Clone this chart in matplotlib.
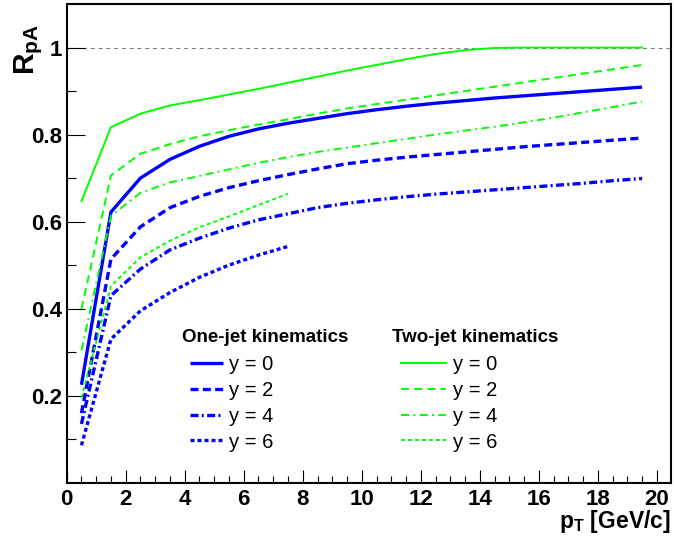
import matplotlib
matplotlib.use("Agg")
import matplotlib.pyplot as plt
from matplotlib.ticker import MultipleLocator, FixedLocator, FuncFormatter

plt.rcParams['font.family'] = ['Liberation Sans', 'DejaVu Sans']
plt.rcParams['mathtext.fontset'] = 'custom'
plt.rcParams['mathtext.rm'] = 'Liberation Sans'
plt.rcParams['mathtext.bf'] = 'Liberation Sans:bold'
plt.rcParams['mathtext.it'] = 'Liberation Sans:italic'

# ---- data ----
pt = [0.5, 1.5, 2.5, 3.5, 4.5, 5.5, 6.5, 7.5, 8.5, 9.5,
      10.5, 11.5, 12.5, 13.5, 14.5, 15.5, 16.5, 17.5, 18.5, 19.5]
pt_short = [0.5, 1.5, 2.5, 3.5, 4.5, 5.5, 6.5, 7.5]

one_jet_y0 = [0.225, 0.622, 0.700, 0.743, 0.773, 0.796, 0.813, 0.826, 0.837, 0.848,
              0.857, 0.865, 0.872, 0.878, 0.884, 0.889, 0.894, 0.899, 0.904, 0.909]
one_jet_y2 = [0.160, 0.514, 0.588, 0.632, 0.658, 0.678, 0.694, 0.708, 0.721, 0.733,
              0.741, 0.748, 0.754, 0.760, 0.766, 0.772, 0.777, 0.782, 0.787, 0.792]
one_jet_y4 = [0.135, 0.430, 0.491, 0.535, 0.562, 0.585, 0.604, 0.618, 0.632, 0.642,
              0.650, 0.657, 0.663, 0.668, 0.673, 0.678, 0.683, 0.688, 0.694, 0.699]
one_jet_y6 = [0.086, 0.330, 0.395, 0.437, 0.472, 0.500, 0.523, 0.543]

two_jet_y0 = [0.647, 0.817, 0.848, 0.867, 0.879, 0.892, 0.905, 0.919, 0.933, 0.947,
              0.960, 0.973, 0.985, 0.994, 0.999, 1.000, 1.000, 1.000, 1.000, 1.000]
two_jet_y2 = [0.399, 0.706, 0.756, 0.778, 0.796, 0.810, 0.823, 0.835, 0.848, 0.860,
              0.870, 0.880, 0.890, 0.900, 0.910, 0.920, 0.930, 0.940, 0.950, 0.960]
two_jet_y4 = [0.304, 0.613, 0.666, 0.690, 0.705, 0.720, 0.735, 0.748, 0.760, 0.770,
              0.780, 0.790, 0.800, 0.809, 0.818, 0.828, 0.839, 0.851, 0.863, 0.876]
two_jet_y6 = [0.195, 0.452, 0.518, 0.556, 0.587, 0.612, 0.638, 0.664]

legend_labels = ['y = 0', 'y = 2', 'y = 4', 'y = 6']
x_ticks = [0, 2, 4, 6, 8, 10, 12, 14, 16, 18, 20]
y_ticks = [0.2, 0.4, 0.6, 0.8, 1.0]

W, H = 674, 542
fig = plt.figure(figsize=(W / 100, H / 100), dpi=100)
ax = fig.add_axes([66.7 / W, 1 - 482.7 / H, (670.7 - 66.7) / W, (482.7 - 4) / H])
ax.set_xlim(0, 20.47)
ax.set_ylim(0, 1.1)

blue = '#0000ff'
green = '#00ff00'
lwb, lwg = 2.4, 1.4

# reference line
ax.axhline(1.0, color='#7f7f7f', lw=0.8, dashes=(3.5, 3.5), zorder=1)

b0, = ax.plot(pt, one_jet_y0, color=blue, lw=lwb, solid_capstyle='butt')
b2, = ax.plot(pt, one_jet_y2, color=blue, lw=lwb, dashes=(2.4, 1.3))
b4, = ax.plot(pt, one_jet_y4, color=blue, lw=lwb, dashes=(2.4, 1.0, 0.6, 1.0))
b6, = ax.plot(pt_short, one_jet_y6, color=blue, lw=lwb, dashes=(1.2, 0.9))

g0, = ax.plot(pt, two_jet_y0, color=green, lw=lwg)
g2, = ax.plot(pt, two_jet_y2, color=green, lw=lwg, dashes=(4.2, 2.6))
g4, = ax.plot(pt, two_jet_y4, color=green, lw=lwg, dashes=(4.2, 2.2, 1.0, 2.2))
g6, = ax.plot(pt_short, two_jet_y6, color=green, lw=lwg, dashes=(2.0, 1.6))

# axes styling
for s in ax.spines.values():
    s.set_linewidth(1.5)
    s.set_color('black')
ax.xaxis.set_major_locator(FixedLocator(x_ticks))
ax.xaxis.set_minor_locator(MultipleLocator(0.5))
ax.yaxis.set_major_locator(FixedLocator(y_ticks))
ax.yaxis.set_minor_locator(FixedLocator([0.1, 0.3, 0.5, 0.7, 0.9]))
ax.yaxis.set_major_formatter(FuncFormatter(lambda v, p: '%g' % v))
ax.tick_params(axis='x', which='major', direction='in', length=9.4, width=0.8, pad=4.5,
               labelsize=16, top=False)
ax.tick_params(axis='x', which='minor', direction='in', length=4.8, width=0.8, top=False)
ax.tick_params(axis='y', which='major', direction='in', length=13, width=0.8, pad=3.6,
               labelsize=16, right=False)
ax.tick_params(axis='y', which='minor', direction='in', length=6.5, width=0.8, right=False)
for lab in ax.get_xticklabels() + ax.get_yticklabels():
    lab.set_fontweight('bold')

# axis titles
fig.text(29 / W, 1 - 24 / H, r'$\mathbf{R}_{\mathbf{pA}}$', rotation=90,
         ha='center', va='top', fontsize=21.5)
fig.text(671 / W, 1 - 528 / H, r'$\mathbf{p}_{\mathbf{T}}$ [GeV/c]', ha='right',
         va='baseline', fontsize=16.5, fontweight='bold')

# legends
fig.text(181.7 / W, 1 - 341.7 / H, 'One-jet kinematics', fontsize=13.5, fontweight='bold',
         ha='left', va='baseline')
fig.text(391.7 / W, 1 - 341.7 / H, 'Two-jet kinematics', fontsize=13.5, fontweight='bold',
         ha='left', va='baseline')

fs_leg = 14.5
leg1 = ax.legend([b0, b2, b4, b6], legend_labels, loc='upper left',
                 bbox_to_anchor=(190 / W, 1 - 355 / H), bbox_transform=fig.transFigure,
                 frameon=False, fontsize=fs_leg, handlelength=1.64, handletextpad=0.28,
                 borderpad=0, borderaxespad=0, labelspacing=0.34)
ax.add_artist(leg1)
leg2 = ax.legend([g0, g2, g4, g6], legend_labels, loc='upper left',
                 bbox_to_anchor=(400.7 / W, 1 - 355 / H), bbox_transform=fig.transFigure,
                 frameon=False, fontsize=fs_leg, handlelength=2.23, handletextpad=0.38,
                 borderpad=0, borderaxespad=0, labelspacing=0.34)

fig.savefig('out.png', dpi=100)
